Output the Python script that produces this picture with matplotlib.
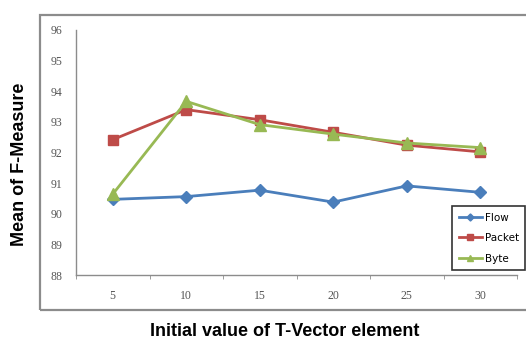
import matplotlib
matplotlib.use("Agg")
import matplotlib.pyplot as plt
from matplotlib.patches import Rectangle

categories = ["5", "10", "15", "20", "25", "30"]
flow = [90.47, 90.56, 90.77, 90.38, 90.91, 90.70]
packet = [92.42, 93.40, 93.07, 92.66, 92.24, 92.02]
byte = [90.64, 93.67, 92.91, 92.60, 92.31, 92.16]
y_ticks = [88, 89, 90, 91, 92, 93, 94, 95, 96]

W, H = 526, 338
fig = plt.figure(figsize=(W / 100, H / 100), dpi=100)

# gray frame around the chart area (right edge runs past the canvas)
fig.patches.append(Rectangle((40 / W, 1 - 310 / H), (W + 20 - 40) / W, (310 - 15) / H,
                             transform=fig.transFigure, fill=False,
                             edgecolor="#8c8c8c", linewidth=1.6))

ax = fig.add_axes([76 / W, 1 - 275 / H, (517 - 76) / W, (275 - 30) / H])
x = list(range(len(categories)))

ax.plot(x, flow, color="#4a7ebb", marker="D", markersize=6, linewidth=2, label="Flow")
ax.plot(x, packet, color="#be4b48", marker="s", markersize=7.5, linewidth=2, label="Packet")
ax.plot(x, byte, color="#98b954", marker="^", markersize=8, linewidth=2, label="Byte")

ax.set_xlim(-0.5, len(categories) - 0.5)
ax.set_ylim(88, 96)
ax.set_yticks(y_ticks)
ax.set_yticklabels([str(v) for v in y_ticks], fontsize=8.5, color="#555555", family="Liberation Serif")
ax.set_xticks(x)
ax.set_xticklabels(categories, fontsize=8.5, color="#555555", family="Liberation Serif")
ax.tick_params(axis="x", which="major", length=0, pad=11)
ax.tick_params(axis="y", which="major", length=0, pad=10)
ax.set_xticks([i - 0.5 for i in range(len(categories) + 1)], minor=True)
ax.tick_params(axis="x", which="minor", length=3, direction="out", color="#8c8c8c")

for side in ("top", "right"):
    ax.spines[side].set_visible(False)
for side in ("left", "bottom"):
    ax.spines[side].set_color("#8c8c8c")
    ax.spines[side].set_linewidth(1.0)

leg = ax.legend(loc="lower right", bbox_to_anchor=(1.03, 0.0), fontsize=7.5,
                frameon=True, fancybox=False, edgecolor="black",
                handlelength=2.2, handletextpad=0.3, labelspacing=1.0,
                borderpad=0.6, markerscale=0.6)
leg.get_frame().set_linewidth(1.2)

fig.text(20 / W, 1 - 164 / H, "Mean of F-Measure", rotation=90, ha="center", va="center",
         fontsize=13, fontweight="bold", family="Liberation Sans")
fig.text(285 / W, 1 - 331 / H, "Initial value of T-Vector element", ha="center", va="center",
         fontsize=13, fontweight="bold", family="Liberation Sans")

fig.savefig("out.png", dpi=100)
